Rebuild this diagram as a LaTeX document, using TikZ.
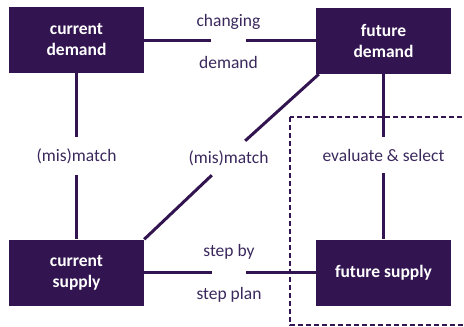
\documentclass[tikz,border=0pt]{standalone}
\usepackage{fontspec}
\setmainfont{Carlito}
\usepackage{xcolor}
\usepackage{tikz}
\usetikzlibrary{positioning,calc}
\definecolor{plum}{RGB}{50,20,80}
\definecolor{plumtext}{RGB}{58,40,92}

\begin{document}
\begin{tikzpicture}[x=1pt,y=-1pt,
    box/.style={fill=plum,text=white,font=\fontsize{17.5}{21}\selectfont\bfseries,align=center,minimum width=135pt,minimum height=66pt,inner sep=0pt},
    gap/.style={inner sep=0pt,text=plumtext,font=\fontsize{17.5}{21}\selectfont},
    link/.style={draw=plum,line width=3pt},
    lbl/.style={text=plumtext,font=\fontsize{17.5}{21}\selectfont}]
    \clip (0,0) rectangle (464,327);
    \useasboundingbox (0,0) rectangle (464,327);

    % Dashed frame round the future side
    \draw[plum,line width=1.3pt,dash pattern=on 5pt off 3pt] (290,117) rectangle (480,325);

    % Boxes
    \node[box] (curdem) at (76.5,40) {current\\demand};
    \node[box] (futdem) at (383.5,41) {future\\demand};
    \node[box] (cursup) at (76.5,272.5) {current\\supply};
    \node[box] (futsup) at (383.5,272.5) {future supply};

    % Gaps in the connectors
    \node[gap,minimum width=35pt,minimum height=6pt] (chg) at (228.5,40.5) {};
    \node[lbl,above=4pt of chg] (chgtop) {changing};
    \node[lbl,below=9pt of chg] (chgbot) {demand};
    \node[gap,minimum width=34pt,minimum height=38pt] (mis1) at (76.5,156) {(mis)match};
    \node[gap,minimum width=33pt,minimum height=34pt] (mis2) at (228.5,158) {};
    \node[lbl] (mis2txt) at (mis2) {(mis)match};
    \node[gap,minimum width=6pt,minimum height=36pt] (evs) at (383.5,155) {evaluate \& select};
    \node[gap,minimum width=34pt,minimum height=6pt] (stp) at (229,272.5) {};
    \node[lbl,above=6pt of stp] (stptop) {step by};
    \node[lbl,below=8pt of stp] (stpbot) {step plan};

    % Connectors
    \draw[link] (curdem.east |- chg.west) -- (chg.west);
    \draw[link] (chg.east) -- (futdem.west |- chg.east);
    \draw[link] (curdem.south) -- (mis1.north);
    \draw[link] (mis1.south) -- (cursup.north);
    \draw[link] ($(futdem.south west)+(3,0)$) -- (mis2.north east);
    \draw[link] (mis2.south west) -- (cursup.north east);
    \draw[link] (futdem.south) -- (evs.north);
    \draw[link] (evs.south) -- (futsup.north);
    \draw[link] (cursup.east |- stp.west) -- (stp.west);
    \draw[link] (stp.east) -- (futsup.west |- stp.east);
\end{tikzpicture}
\end{document}
